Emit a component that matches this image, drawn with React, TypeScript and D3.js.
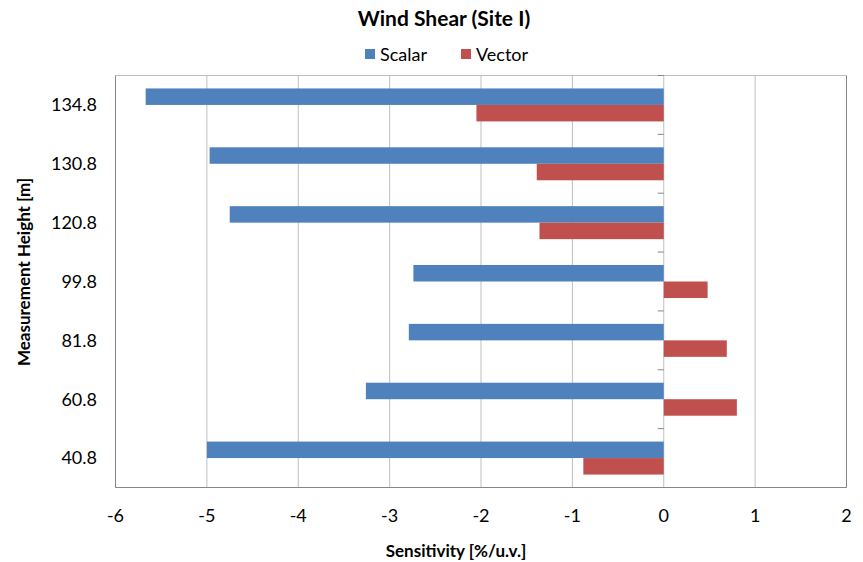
import React from "react";
import * as d3 from "d3";

const categories = ["134.8", "130.8", "120.8", "99.8", "81.8", "60.8", "40.8"];
const scalarValues = [-5.67, -4.97, -4.75, -2.74, -2.79, -3.26, -5.0];
const vectorValues = [-2.05, -1.39, -1.36, 0.48, 0.69, 0.8, -0.88];
const seriesNames = ["Scalar", "Vector"];
const seriesColors = ["#4F81BD", "#C0504D"];
const xTicks = [-6, -5, -4, -3, -2, -1, 0, 1, 2];

const W = 863;
const H = 562;
const left = 115.5;
const right = 846.5;
const top = 75.5;
const bottom = 487.5;
const FONT = "Lato, 'Open Sans', sans-serif";

export default function App() {
  const x = d3.scaleLinear().domain([-6, 2]).range([left, right]);
  const y = d3.scaleBand<string>().domain(categories).range([top, bottom]).padding(0);
  const bw = y.bandwidth();
  const barH = bw / 3.57;
  const offset = (bw - 2 * barH) / 2;
  const series = [scalarValues, vectorValues];
  const boundaries = d3.range(categories.length + 1).map((i) => top + i * bw);

  return (
    <svg
      width={W}
      height={H}
      style={{ position: "absolute", left: 0, top: 0, background: "#fff" }}
      fontFamily={FONT}
    >
      <rect x={0} y={0} width={W} height={H} fill="#fff" />
      {/* gridlines */}
      {xTicks.map((t) => (
        <line key={"g" + t} x1={x(t)} x2={x(t)} y1={top} y2={bottom} stroke="#BFBFBF" strokeWidth={1} />
      ))}
      <line x1={left} x2={right} y1={top} y2={top} stroke="#BFBFBF" strokeWidth={1} />
      {/* bars */}
      {series.map((vals, si) =>
        vals.map((v, i) => {
          const yy = (y(categories[i]) as number) + offset + si * barH;
          const x0 = x(Math.min(0, v));
          const x1 = x(Math.max(0, v));
          return (
            <rect
              key={si + "-" + i}
              x={x0}
              y={yy}
              width={x1 - x0}
              height={barH}
              fill={seriesColors[si]}
            />
          );
        })
      )}
      {/* category ticks at zero axis */}
      {boundaries.map((b, i) => (
        <line key={"t" + i} x1={x(0) - 6} x2={x(0)} y1={b} y2={b} stroke="#868686" strokeWidth={1} />
      ))}
      {/* borders */}
      <line x1={left} x2={left} y1={top} y2={bottom} stroke="#868686" strokeWidth={1} />
      <line x1={right} x2={right} y1={top} y2={bottom} stroke="#868686" strokeWidth={1} />
      <line x1={left} x2={right} y1={bottom} y2={bottom} stroke="#868686" strokeWidth={1} />
      {/* x tick labels */}
      {xTicks.map((t) => (
        <text key={"xl" + t} x={x(t)} y={522} textAnchor="middle" fontSize={18} fill="#000">
          {t < 0 ? "-" + Math.abs(t) : String(t)}
        </text>
      ))}
      {/* y tick labels */}
      {categories.map((c) => (
        <text
          key={"yl" + c}
          x={97}
          y={(y(c) as number) + bw / 2}
          dy="0.35em"
          textAnchor="end"
          fontSize={18}
          fill="#000"
        >
          {c}
        </text>
      ))}
      {/* title */}
      <text x={444} y={26} textAnchor="middle" fontSize={21} fontWeight="bold" fill="#000">
        Wind Shear (Site I)
      </text>
      {/* legend */}
      {seriesNames.map((n, i) => {
        const lx = [365, 461][i];
        return (
          <g key={n}>
            <rect x={lx} y={49} width={10} height={10} fill={seriesColors[i]} />
            <text x={lx + 15} y={61} fontSize={18} fill="#000">
              {n}
            </text>
          </g>
        );
      })}
      {/* axis titles */}
      <text x={456} y={557} textAnchor="middle" fontSize={17} fontWeight="bold" fill="#000">
        Sensitivity [%/u.v.]
      </text>
      <text
        transform={`translate(30, 272) rotate(-90)`}
        textAnchor="middle"
        fontSize={17}
        fontWeight="bold"
        fill="#000"
      >
        Measurement Height [m]
      </text>
    </svg>
  );
}
